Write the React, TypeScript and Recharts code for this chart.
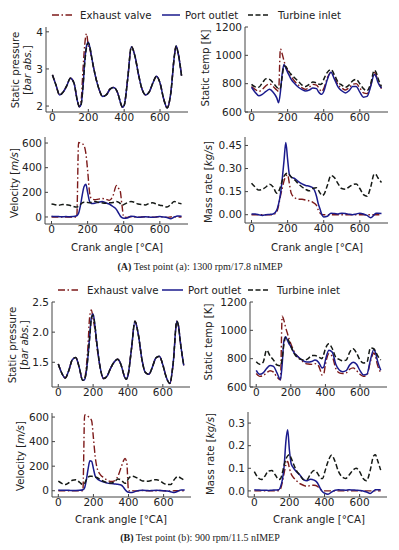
import React from 'react';
import { LineChart, Line, XAxis, YAxis } from 'recharts';

const crankAngle = [0,20,40,60,80,100,120,140,150,160,170,180,190,200,210,220,240,260,280,300,320,340,360,370,380,390,400,420,440,460,480,500,520,540,560,580,600,620,640,660,680,690,700,720];
const xTicks = [0, 200, 400, 600];

// (A) 1300 rpm — static pressure [bar]
const pressureA_exhaust = [2.84,2.56,2.30,2.38,2.55,2.75,2.62,2.12, 1.98,2.15,2.95,3.65,3.95,3.62,3.50,3.25, 2.80,2.45,2.26,2.30,2.45,2.50,2.40, 2.26,2.08,1.97,2.02, 2.75,3.60,3.35,2.85,2.45,2.30,2.38,2.62,2.80,2.62,2.20,1.95,2.35,3.35, 3.62,3.45,2.82];
const pressureA_port = [2.84,2.56,2.30,2.38,2.55,2.75,2.62,2.12, 1.98,2.05,2.50,3.20,3.62,3.72,3.55,3.28, 2.80,2.45,2.26,2.30,2.45,2.50,2.40, 2.26,2.08,1.97,2.02, 2.75,3.60,3.35,2.85,2.45,2.30,2.38,2.62,2.80,2.62,2.20,1.95,2.35,3.35, 3.62,3.45,2.82];
const pressureA_turbine = [2.84,2.56,2.30,2.38,2.55,2.75,2.62,2.12, 1.98,2.05,2.50,3.15,3.58,3.70,3.56,3.28, 2.80,2.45,2.26,2.30,2.45,2.50,2.40, 2.26,2.08,1.97,2.02, 2.75,3.60,3.35,2.85,2.45,2.30,2.38,2.62,2.80,2.62,2.20,1.95,2.35,3.35, 3.62,3.45,2.82];

// (A) static temperature [K]
const tempA_exhaust = [780,760,745,760,785,800,780,755, 745,1045,1010,960,920,895,870,850, 815,790,770,760,775,795,790, 775,755,745,765, 840,880,840,790,770,755,770,795,800,770,735,730,785,880, 860,820,765];
const tempA_port = [775,740,715,725,745,760,740,700, 665,740,870,935,910,880,855,830, 800,775,758,748,755,770,765, 745,730,725,745, 830,880,830,775,750,735,750,780,780,740,705,710,780,865, 850,810,770];
const tempA_turbine = [795,778,775,805,835,830,805,775, 765,770,850,925,920,900,880,865, 840,815,790,780,795,812,805, 798,795,800,830, 880,900,860,810,790,775,790,820,830,800,765,750,800,895, 880,840,780];

// (A) velocity [m/s]
const velA_exhaust = [0,0,0,0,0,0,0,0, 605,600,595,580,520,380,210,150, 140,145,150,145,135,170,255, 235,215,100,0, -3,2,0,-2,0,2,0,-2,0,2,0,-3,0,2, 0,0,0];
const velA_port = [5,4,3,2,3,2,3,10, 30,90,175,245,265,200,130,110, 112,118,125,115,105,85,60, 35,10,-5,-10, -8,5,3,-3,0,2,0,-3,0,3,0,-5,-15,0, 5,8,5];
const velA_turbine = [105,100,95,102,100,95,85,80, 88,100,115,120,120,118,115,118, 125,120,115,112,115,118,125, 120,110,95,100, 115,125,118,105,100,98,110,115,105,95,90,80,100,125, 122,115,108];

// (A) mass rate [kg/s]
const massA_exhaust = [0,0,0,0,0,0,0,0.02, 0.06,0.12,0.17,0.22,0.25,0.26,0.20,0.14, 0.11,0.10,0.10,0.095,0.09,0.08,0.06, 0.03,0.01,0,0, 0,0,0,0,0,0,0,0,0,0,0,0,0,0, 0,0,0];
const massA_port = [0.005,0.004,0,-0.005,0,0.002,0.005,0.03, 0.07,0.13,0.23,0.35,0.47,0.36,0.26,0.245, 0.235,0.215,0.20,0.19,0.185,0.175,0.12, 0.07,0.035,0,-0.015, -0.01,0.01,0.008,0.005,0.01,0.008,0.003,0,0.005,0.01,0.005,-0.005,-0.02,0, 0.01,0.01,0.008];
const massA_turbine = [0.205,0.18,0.16,0.165,0.18,0.198,0.18,0.14, 0.15,0.18,0.22,0.25,0.265,0.27,0.26,0.245, 0.225,0.20,0.18,0.165,0.155,0.17,0.175, 0.16,0.14,0.125,0.13, 0.19,0.255,0.24,0.20,0.17,0.165,0.18,0.195,0.20,0.17,0.13,0.12,0.18,0.265, 0.26,0.24,0.21];

// (B) 900 rpm — static pressure [bar]
const pressureB_exhaust = [1.47,1.32,1.24,1.36,1.54,1.58,1.42,1.20, 1.21,1.40,1.75,2.25,2.37,2.22,2.05,1.80, 1.42,1.23,1.27,1.40,1.50,1.55,1.46, 1.36,1.26,1.22,1.28, 1.72,2.18,1.95,1.55,1.33,1.30,1.42,1.57,1.60,1.46,1.25,1.15,1.50,2.18, 2.10,1.85,1.45];
const pressureB_port = [1.47,1.32,1.24,1.36,1.54,1.58,1.42,1.20, 1.21,1.33,1.58,1.92,2.24,2.30,2.12,1.85, 1.42,1.23,1.27,1.40,1.50,1.55,1.46, 1.36,1.26,1.22,1.28, 1.72,2.18,1.95,1.55,1.33,1.30,1.42,1.57,1.60,1.46,1.25,1.15,1.50,2.18, 2.10,1.85,1.45];
const pressureB_turbine = [1.47,1.32,1.24,1.36,1.54,1.58,1.42,1.20, 1.21,1.33,1.58,1.90,2.22,2.28,2.12,1.85, 1.42,1.23,1.27,1.40,1.50,1.55,1.46, 1.36,1.26,1.22,1.28, 1.72,2.18,1.95,1.55,1.33,1.30,1.42,1.57,1.60,1.46,1.25,1.15,1.50,2.18, 2.10,1.85,1.45];

// (B) static temperature [K]
const tempB_exhaust = [695,675,680,700,715,705,670,650, 1100,1070,1020,980,940,905,875,850, 815,790,770,762,760,765,750, 720,685,690,760, 835,815,730,700,695,700,725,735,715,690,675,685,780,840, 810,760,700];
const tempB_port = [718,690,700,730,752,745,700,652, 760,925,955,930,905,885,860,840, 815,795,780,776,780,790,775, 755,735,740,790, 860,845,760,720,708,715,755,775,760,715,685,690,790,865, 840,790,718];
const tempB_turbine = [778,760,775,860,820,790,755,750, 800,900,950,945,920,890,860,835, 805,795,790,800,822,822,812, 805,800,830,870, 905,870,810,795,785,790,845,870,840,790,770,775,875,870, 850,825,790];

// (B) velocity [m/s]
const velB_exhaust = [0,0,0,0,0,0,0,0, 618,615,605,590,570,430,280,190, 130,105,85,75,80,120,200, 240,262,230,0, 0,-2,0,2,0,0,-2,0,2,0,0,-2,0,0, 0,0,0];
const velB_port = [5,4,3,3,2,2,3,8, 25,90,180,245,240,180,120,100, 80,70,62,58,55,52,45, 30,10,-5,-12, -15,-5,2,3,2,0,2,3,2,0,-3,-8,-15,-5, 3,5,5];
const velB_turbine = [78,60,50,65,85,90,70,50, 60,90,110,118,118,115,110,108, 90,75,65,62,75,95,85, 70,60,70,100, 118,110,95,80,78,80,88,90,80,60,50,50,90,115, 110,100,85];

// (B) mass rate [kg/s]
const massB_exhaust = [0,0,0,0,0,0,0,0.002, 0.01,0.04,0.08,0.115,0.13,0.10,0.075,0.062, 0.045,0.032,0.025,0.02,0.024,0.025,0.02, 0.012,0.005,0.001,0, 0,0,0,0,0,0,0,0,0,0,0,0,0,0, 0,0,0];
const massB_port = [0.005,0.004,0.003,0.003,0.002,0.003,0.004,0.005, 0.02,0.05,0.11,0.22,0.27,0.18,0.12,0.105, 0.085,0.07,0.05,0.045,0.052,0.048,0.035, 0.02,0.005,-0.005,-0.01, -0.015,-0.005,0.003,0.005,0.004,0.003,0.005,0.004,0.003,0.002,0,-0.005,-0.012,0, 0.005,0.005,0.005];
const massB_turbine = [0.085,0.06,0.05,0.065,0.088,0.09,0.07,0.05, 0.055,0.08,0.115,0.14,0.155,0.16,0.145,0.125, 0.09,0.07,0.05,0.05,0.075,0.09,0.078, 0.065,0.055,0.055,0.08, 0.13,0.158,0.13,0.085,0.062,0.055,0.07,0.09,0.10,0.085,0.055,0.045,0.09,0.155, 0.16,0.14,0.092];

const seriesNames = ['Exhaust valve', 'Port outlet', 'Turbine inlet'];
const EV_COLOR = '#7d1a1a';
const PO_COLOR = '#1a1a8c';
const TI_COLOR = '#151915';
const EV_DASH = '7 2.5 1.5 2.5';
const TI_DASH = '5 2.5';

const YW = 40;
const XH = 20;
const MT = 8;
const MR = 4;
const AXIS = '#444';
const FONT = '"DejaVu Sans", sans-serif';

function makeRows(ev: number[], po: number[], ti: number[]) {
  return crankAngle.map((a, i) => ({ a, ev: ev[i], po: po[i], ti: ti[i] }));
}

type PanelProps = {
  x: number; y: number; w: number; h: number;
  ev: number[]; po: number[]; ti: number[];
  yDomain: [number, number]; yTicks: number[];
  fmt?: (v: number) => string;
};

function Panel({ x, y, w, h, ev, po, ti, yDomain, yTicks, fmt }: PanelProps) {
  const data = makeRows(ev, po, ti);
  return (
    <div style={{ position: 'absolute', left: x - YW, top: y - MT }}>
      <LineChart width={w + YW + MR} height={h + MT + XH} data={data} margin={{ top: MT, right: MR, left: 0, bottom: 0 }}>
        <XAxis xAxisId="b" dataKey="a" type="number" domain={[-36, 756]} ticks={xTicks} allowDataOverflow
          height={XH} stroke={AXIS} tickSize={-3} tickMargin={5} interval={0}
          tick={{ fill: '#222', fontSize: 10.5 }} />
        <XAxis xAxisId="t" orientation="top" dataKey="a" type="number" domain={[-36, 756]} allowDataOverflow
          height={0} tick={false} tickLine={false} stroke={AXIS} />
        <YAxis yAxisId="l" type="number" domain={yDomain} ticks={yTicks} allowDataOverflow width={YW}
          stroke={AXIS} tickSize={-3} tickMargin={6} interval={0} tickFormatter={fmt}
          tick={{ fill: '#222', fontSize: 10.5 }} />
        <YAxis yAxisId="r" orientation="right" type="number" domain={yDomain} allowDataOverflow width={0}
          tick={false} tickLine={false} stroke={AXIS} />
        <Line xAxisId="b" yAxisId="l" type="monotone" dataKey="ev" name={seriesNames[0]} stroke={EV_COLOR}
          strokeWidth={1.4} strokeDasharray={EV_DASH} dot={false} isAnimationActive={false} />
        <Line xAxisId="b" yAxisId="l" type="monotone" dataKey="po" name={seriesNames[1]} stroke={PO_COLOR}
          strokeWidth={1.5} dot={false} isAnimationActive={false} />
        <Line xAxisId="b" yAxisId="l" type="monotone" dataKey="ti" name={seriesNames[2]} stroke={TI_COLOR}
          strokeWidth={1.5} strokeDasharray={TI_DASH} dot={false} isAnimationActive={false} />
      </LineChart>
    </div>
  );
}

function YLabel({ x, y, children }: { x: number; y: number; children: React.ReactNode }) {
  return (
    <text x={x} y={y} transform={`rotate(-90 ${x} ${y})`} textAnchor="middle" dominantBaseline="central"
      fontSize={10.2} fill="#222">{children}</text>
  );
}

function Legend({ y, pos }: { y: number; pos: number[] }) {
  const [e1, e2, et, p1, p2, pt, t1, t2, tt] = pos;
  return (
    <g fontSize={10.2} fill="#222">
      <line x1={e1} x2={e2} y1={y} y2={y} stroke={EV_COLOR} strokeWidth={1.5} strokeDasharray={EV_DASH} />
      <text x={et} y={y} dominantBaseline="central">{seriesNames[0]}</text>
      <line x1={p1} x2={p2} y1={y} y2={y} stroke={PO_COLOR} strokeWidth={1.5} />
      <text x={pt} y={y} dominantBaseline="central">{seriesNames[1]}</text>
      <line x1={t1} x2={t2} y1={y} y2={y} stroke={TI_COLOR} strokeWidth={1.5} strokeDasharray={TI_DASH} />
      <text x={tt} y={y} dominantBaseline="central">{seriesNames[2]}</text>
    </g>
  );
}

const f2 = (v: number) => v.toFixed(2);
const f1 = (v: number) => v.toFixed(1);
const f0 = (v: number) => String(v);

export default function App() {
  return (
    <div style={{ position: 'absolute', left: 0, top: 0, width: 399, height: 550, background: '#fff', fontFamily: FONT, overflow: 'hidden' }}>
      <Panel x={46} y={27} w={142} h={85} ev={pressureA_exhaust} po={pressureA_port} ti={pressureA_turbine}
        yDomain={[1.84, 4.13]} yTicks={[2, 3, 4]} fmt={f0} />
      <Panel x={245} y={27} w={143} h={85} ev={tempA_exhaust} po={tempA_port} ti={tempA_turbine}
        yDomain={[600, 1200]} yTicks={[600, 800, 1000, 1200]} fmt={f0} />
      <Panel x={45} y={137} w={143} h={87} ev={velA_exhaust} po={velA_port} ti={velA_turbine}
        yDomain={[-57, 649]} yTicks={[0, 200, 400, 600]} fmt={f0} />
      <Panel x={245} y={137} w={143} h={86} ev={massA_exhaust} po={massA_port} ti={massA_turbine}
        yDomain={[-0.054, 0.505]} yTicks={[0, 0.15, 0.3, 0.45]} fmt={f2} />

      <Panel x={52} y={302} w={138} h={85} ev={pressureB_exhaust} po={pressureB_port} ti={pressureB_turbine}
        yDomain={[1.09, 2.5]} yTicks={[1.5, 2.0, 2.5]} fmt={f1} />
      <Panel x={250} y={302} w={137} h={85} ev={tempB_exhaust} po={tempB_port} ti={tempB_turbine}
        yDomain={[600, 1200]} yTicks={[600, 800, 1000, 1200]} fmt={f0} />
      <Panel x={52} y={413} w={139} h={84} ev={velB_exhaust} po={velB_port} ti={velB_turbine}
        yDomain={[-51, 633]} yTicks={[0, 200, 400, 600]} fmt={f0} />
      <Panel x={248} y={412} w={139} h={85} ev={massB_exhaust} po={massB_port} ti={massB_turbine}
        yDomain={[-0.027, 0.349]} yTicks={[0, 0.1, 0.2, 0.3]} fmt={f1} />

      <svg width={399} height={550} style={{ position: 'absolute', left: 0, top: 0, pointerEvents: 'none', fontFamily: FONT }}>
        <Legend y={15} pos={[52, 72, 80, 162, 180, 185, 248, 268, 278]} />
        <Legend y={290} pos={[58, 78, 87, 162, 183, 188, 248, 268, 277]} />

        <YLabel x={15} y={70}>Static pressure</YLabel>
        <YLabel x={27} y={70}>[<tspan fontStyle="italic">bar abs.</tspan>]</YLabel>
        <YLabel x={205} y={68}>Static temp [K]</YLabel>
        <YLabel x={14} y={183}>Velocity [<tspan fontStyle="italic">m/s</tspan>]</YLabel>
        <YLabel x={208} y={182}>Mass rate [<tspan fontStyle="italic">kg/s</tspan>]</YLabel>

        <YLabel x={12} y={345}>Static pressure</YLabel>
        <YLabel x={24} y={345}>[<tspan fontStyle="italic">bar abs.</tspan>]</YLabel>
        <YLabel x={208} y={342}>Static temp [K]</YLabel>
        <YLabel x={20} y={456}>Velocity [<tspan fontStyle="italic">m/s</tspan>]</YLabel>
        <YLabel x={210} y={454}>Mass rate [<tspan fontStyle="italic">kg/s</tspan>]</YLabel>

        <g fontSize={10.2} fill="#222" textAnchor="middle">
          <text x={117} y={247} dominantBaseline="central">Crank angle [°CA]</text>
          <text x={317} y={247} dominantBaseline="central">Crank angle [°CA]</text>
          <text x={121} y={519} dominantBaseline="central">Crank angle [°CA]</text>
          <text x={319} y={519} dominantBaseline="central">Crank angle [°CA]</text>
        </g>

        <g fontFamily='"Liberation Serif", "DejaVu Serif", serif' fontSize={10} fill="#222" textAnchor="middle">
          <text x={200} y={266} dominantBaseline="central"><tspan fontWeight="bold">(A)</tspan> Test point (a): 1300 rpm/17.8 nIMEP</text>
          <text x={200} y={537} dominantBaseline="central"><tspan fontWeight="bold">(B)</tspan> Test point (b): 900 rpm/11.5 nIMEP</text>
        </g>
      </svg>
    </div>
  );
}
